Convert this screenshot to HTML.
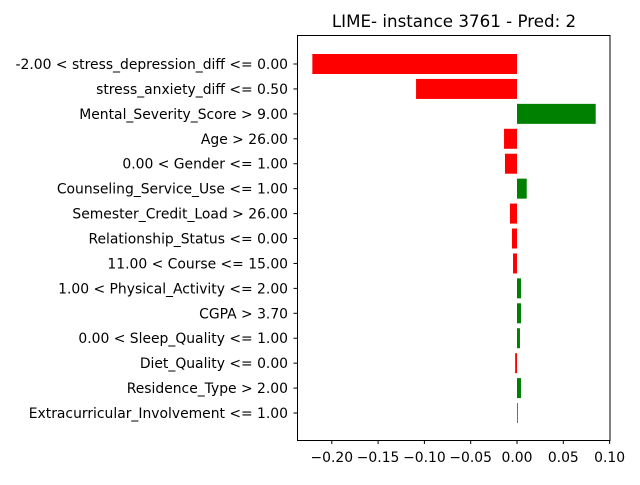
<!DOCTYPE html>
<html><head><meta charset="utf-8"><style>
body{margin:0;background:#fff;width:640px;height:480px;overflow:hidden}
svg text{font-family:"DejaVu Sans","Liberation Sans",sans-serif;fill:#000}
</style></head><body>
<svg id="chart" width="640" height="480">
<text x="454" y="27" font-size="16.7" text-anchor="middle">LIME- instance 3761 - Pred: 2</text>
<g id="bars"></g>
<g id="ticks"></g>
<rect x="297.5" y="35.5" width="312.5" height="405" fill="none" stroke="#000" stroke-width="1"/>
</svg>
<script>
const labels=["-2.00 < stress_depression_diff <= 0.00","stress_anxiety_diff <= 0.50","Mental_Severity_Score > 9.00","Age > 26.00","0.00 < Gender <= 1.00","Counseling_Service_Use <= 1.00","Semester_Credit_Load > 26.00","Relationship_Status <= 0.00","11.00 < Course <= 15.00","1.00 < Physical_Activity <= 2.00","CGPA > 3.70","0.00 < Sleep_Quality <= 1.00","Diet_Quality <= 0.00","Residence_Type > 2.00","Extracurricular_Involvement <= 1.00"];
const values=[-0.221,-0.109,0.085,-0.014,-0.013,0.0105,-0.0076,-0.0054,-0.0043,0.0043,0.0043,0.0032,-0.002,0.0043,0.0007];
const xticks=[-0.20,-0.15,-0.10,-0.05,0.00,0.05,0.10];
const xtickLabels=["\u22120.20","\u22120.15","\u22120.10","\u22120.05","0.00","0.05","0.10"];
const NS="http://www.w3.org/2000/svg";
const x=v=>517+v*926;
const y=i=>64+i*24.93;
const bars=document.getElementById('bars'),ticks=document.getElementById('ticks');
function mk(tag,attrs,parent){const e=document.createElementNS(NS,tag);for(const k in attrs)e.setAttribute(k,attrs[k]);parent.appendChild(e);return e;}
values.forEach((v,i)=>{
  const r=mk('rect',{x:Math.min(x(0),x(v)),y:y(i)-10,width:Math.max(Math.abs(x(v)-x(0)),0.8),height:20,fill:v<0?'#ff0000':'#008000'},bars);
  
  
  mk('line',{x1:297,x2:293.5,y1:y(i),y2:y(i),stroke:'#000'},ticks);
  const t=mk('text',{x:288,y:y(i)+5,'font-size':'13.9','text-anchor':'end'},ticks);
  t.textContent=labels[i];
  
  
});
xticks.forEach((v,i)=>{
  mk('line',{x1:x(v),x2:x(v),y1:440,y2:444,stroke:'#000'},ticks);
  const t=mk('text',{x:x(v),y:462,'font-size':'13.9','text-anchor':'middle'},ticks);
  t.textContent=xtickLabels[i];
  
  
});
</script>
</body></html>
